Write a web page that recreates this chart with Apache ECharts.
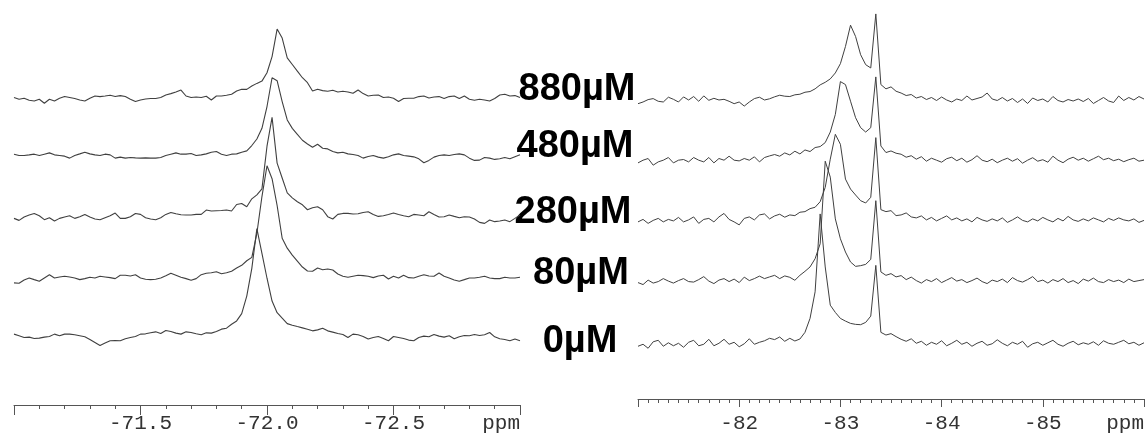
<!DOCTYPE html>
<html><head><meta charset="utf-8">
<script src="https://cdn.jsdelivr.net/npm/echarts@6/dist/echarts.min.js"></script>
<style>html,body{margin:0;padding:0;background:#fff}#c{width:1147px;height:434px}</style>
</head><body><div id="c"></div>
<script>
// ---- data ----
const concentrations = ['0µM', '80µM', '280µM', '480µM', '880µM'];

// left panel: chemical shift grid (ppm), -71.00 .. -73.00 step 0.02
const leftStart = -71.0, leftStep = 0.02, leftCount = 101;
// right panel: -81.00 .. -86.00 step 0.05
const rightStart = -81.0, rightStep = 0.05, rightCount = 101;

// vertical stacking offsets of each trace (same order as concentrations)
const leftOffsets  = [0.7, 60, 120.7, 182.7, 240];
const rightOffsets = [-6, 57, 118, 179, 238.5];

// left panel intensities
const left0 = [2.7,1,-0.7,-0.3,-1.7,-1.3,-0.3,0.3,2.7,1,
 2.7,2.7,2,1,0,-2.7,-5.7,-8.7,-6.3,-4,
 -3.7,-4,-2,-0.7,0.3,2.7,3,4,5,3.3,
 6.3,5.3,3.7,2.7,5,4.3,3,2,4,3.7,
 5.3,7.7,8.7,12.7,16,23.3,41,69,109,84,
 59,36,24.3,18.7,13.3,11.7,10.3,9,7.7,6,
 7,8.7,6,4.7,3.3,2.3,-0.7,2.7,2,0.3,
 -2.3,-0.7,0.3,-1.7,-4,0.3,-0.7,-1.7,-3.3,-4,
 -0.7,0.7,0,2.3,0.7,-0.3,1,-2,0,1.3,
 1,2.3,1.3,2,4.3,0,-2,-2.7,-4,-2.3,
 -4];
const left80 = [-5,-5.3,-2,0,-1.7,-3.3,0,3.3,0,1,
 1.7,1,0,-1.7,-0.7,0.7,0,1.7,1,0.3,
 -0.7,2.7,2.7,2,3.3,0,-1.3,-1.7,-1.3,0,
 2.3,4.7,2.7,0.7,-0.7,-2.3,-0.7,3.3,4.7,5.3,
 6.3,4.3,5.3,6.7,10,12.7,17.3,20.7,45,82,
 113,100,73,40,30,23,17,11,7,6.7,
 10,8.3,9,8,4,1.7,0.7,1.7,2.7,2.3,
 1.7,0.3,2,2.7,-1,1.7,0,2.7,0.3,0,
 1.7,3.3,2,1.7,5,1.7,0,-2,-3.3,-1.7,
 0,0,0.7,1.7,0,-0.7,-0.7,0.7,0,0,
 0.7];
const left280 = [-0.7,-2.7,0.7,2.7,4.3,2,-2,0,-3.3,-0.7,
 0.7,2,-0.7,1,3.3,0.7,-1.3,-2,0,2,
 4.7,-0.7,-0.7,1,4.3,3.3,0,-1.3,-2,0,
 3.3,5.3,4,3,2.7,2.7,3.3,3.3,7.7,6.7,
 7,7.3,7.7,6.7,13.3,14.3,11,19,23,29,
 72,101,55,40,25,20,16,13,8,10,
 11,8,1,-1.3,3.3,4.3,4.3,3.7,4,5.3,
 6,3.3,1.3,2,3.3,4.7,3.3,2,1,3.3,
 2.7,2,6,3.3,0.7,1,2.7,1.3,0,1,
 0.7,-1.3,-4.7,-5.7,-2.3,-4,-3.3,-2.3,-4,-0.7,
 2.7];
const left480 = [2,0.7,0.7,1.3,2,0.7,2,3.3,1.3,0.7,
 0,-2,0.7,2.3,4,2.3,1.3,0.7,2,1.3,
 -2,-1,-2,-1.3,-1.7,-2,-1.7,-2,-2,-1.3,
 0.7,2,3.3,2,2,2.7,0.7,1.3,2.3,4,
 4.7,2,0.7,2,2.3,4,5.3,10.7,17.3,28,
 50,79,76,55,36.5,28,22,16,12.3,9,
 12,8,7.3,4.7,3.3,4,2.3,1.7,0.7,-2,
 -0.3,0.7,-1,-2,-0.7,1.3,2.3,0.7,0,-0.7,
 -2.7,-6.7,-4.3,-1,0.7,1.3,0.7,1.7,2.3,1.3,
 -2,-4.3,-4,-1.3,-2,-3.3,-2.7,-1.3,-2.7,-0.7,
 1.3];
const left880 = [1.7,0,1,-1,-1.7,0,-4,0,-1.7,1,
 2.7,1.7,0.7,-0.7,-1.7,1,3.3,2.7,3.3,4,
 2.7,3.7,2.7,0,-2.3,-0.7,0.3,0.7,0.7,1.7,
 4.3,5.7,7.3,9.3,3.3,1.7,2.3,1.7,3,-0.7,
 3.3,3.3,4,5,8.3,10,10,13.3,16,18.3,
 26.7,43,70.7,61.7,41.7,35,28.3,21.7,16.7,8.3,
 10,8.7,8,9,7.3,8,7.3,6,9.3,5.7,
 3.3,4,4.3,1.7,2.3,1,-2.3,0.7,1,1,
 2.7,3.3,1.3,2.3,2.7,0.7,2.7,3.3,0.7,3.3,
 0,-1,0,-0.7,-1.7,0.7,4.3,5,3.3,3.7,
 1.7];

// right panel intensities
const right0 = [-2,0,-4,2.5,4,-2,1.5,-1.5,1,-3,
 2,4,-1.5,0,5,-1.5,1,5,0,2,
 -2.5,0.5,5.5,0,2,3.5,6,4.7,7.3,3,
 6,3.3,5.3,12,26,52.7,131,77.7,39.3,32,
 26,23.3,21,20,19.7,22,28.3,79.3,12,9.3,
 10.7,7.7,5,3,5.5,1,3,-1,2,0,
 3.5,-1.5,1,4,0,2,-2,1,3,-1,
 0.5,4.5,1,-1.5,2,0,3,-3,0.5,2,
 -1,1.5,4,0,-2,1,3,-0.5,1.5,0,
 2.5,-1,3.5,1,0,2,4,0.5,2,-1,
 1.5];
const right80 = [-1,-3,1.5,-1.5,0,3,0.5,-1.5,1,3,
 0,-0.5,2,5,0.5,-2,1.5,3,0,2.5,
 -1,4.5,1,3,5.5,3,4.7,6.3,3,5.7,
 4.3,1.3,6.3,10.3,14.7,23,38,121,105,63,
 43,29.7,19.7,15.3,16,17.3,22.3,81.3,9.7,6.3,
 8,4.7,6,2,4.5,1,-1.5,2,0,3,
 -1,1.5,4,0.5,2,-1,1,3.5,0,-2,
 1.5,0,2.5,-1,4,1,-0.5,2,5,0,
 1.5,-1.5,2,0,3,-1,1,-2,2.5,0.5,
 3.5,0,-1,2,0,1.5,-1,2.5,0,1,
 2];
const right280 = [-1,1.5,-2.5,0.5,2.5,-1,1.5,0,3.5,-1,
 1,4,-2.5,1.5,2.5,-1,4,7.5,1.5,-1,
 -4,2.5,4,1,6,7,2,5,6.7,3.7,
 6,5.3,8.7,9.3,12.3,13.7,19.3,33.7,62,87,
 77,42,32,26,20.3,18,23.7,83.7,11.3,9.3,
 10.3,5.3,6,8,4,3,5,1,3.5,0,
 2.5,5,1,3,0,2,-1,3.5,1,-0.5,
 2,0,3,-1.5,1,4,0.5,-1,2,0,
 3.5,1,-1,2.5,0,4.5,1,-0.5,2,0,
 3,1,-1,2.5,0.5,3,1,0,2,-1.5,
 0.5];
const right480 = [-2.7,0,1.7,-5,-1.7,0,2.7,-2.7,0,0.7,
 -1.7,2.7,0,-1.7,2.7,-2.7,1.7,0,4,0,
 -0.7,1.7,0,3.4,-1.7,2.7,4.3,5.7,4,7.3,
 5.3,9,6.3,10.3,8.7,12.7,13.7,17.7,28.3,46,
 79,76,59.3,42.7,32.7,28.3,32.7,83.7,14.3,7.7,
 9.3,7,6,3,4.5,1,3.5,-1,2,0,
 -2,1.5,3,-0.5,2,-2,0.5,4.5,0,-1.5,
 1,-2.5,0,2,-1,1.5,-3,0,2.5,-1,
 0.5,-2,4,0,-2.5,1,3,0,2,-1,
 1.5,4,0.5,2,-0.5,1,-1.5,0.5,2,-1,
 0];
const right880 = [-2.7,-1,1.4,2.4,-0.3,-1,3.8,1.7,-1,4.1,
 1,4.5,-0.3,5.1,0.7,2.7,1,1.7,-0.3,-2.7,
 -1,-5.1,-1,2.4,3.8,1,2.2,4.2,5.8,4.8,
 4.5,6.2,6.8,8.8,9.5,12.2,16.2,18.8,22.2,28.2,
 37.5,54.8,76.2,64.8,46.5,36.5,33.2,87.5,16.5,12.2,
 14.2,9.8,8,5.5,6.5,3,4.5,1.5,3.5,0.5,
 4,1,-1,2,0.5,5,1,2.5,4,8,
 2,0.5,3.5,0,2.5,-1.5,2,-2.5,3,0.5,
 2,-1,4.5,0.5,-1,1.5,0,2,-0.5,2.5,
 -2.5,0.5,3.5,0,-1.5,5,0.5,3.5,1,4.5,
 2];

const leftTraces  = [left0, left80, left280, left480, left880];
const rightTraces = [right0, right80, right280, right480, right880];

// axis ticks
const leftTickInterval = 0.5, rightTickInterval = 1;

// ---- build ----
function grid(start, step, n) { const a = []; for (let i = 0; i < n; i++) a.push(+(start - step * i).toFixed(3)); return a; }
const leftPpm = grid(leftStart, leftStep, leftCount);
const rightPpm = grid(rightStart, rightStep, rightCount);

const lineColor = '#404040';
const series = [];
leftTraces.forEach((tr, k) => series.push({
  type: 'line', xAxisIndex: 0, yAxisIndex: 0, showSymbol: false, symbol: 'none', silent: true,
  lineStyle: { width: 1.1, color: lineColor }, data: tr.map((v, i) => [leftPpm[i], v + leftOffsets[k]])
}));
rightTraces.forEach((tr, k) => series.push({
  type: 'line', xAxisIndex: 1, yAxisIndex: 1, showSymbol: false, symbol: 'none', silent: true,
  lineStyle: { width: 1, color: lineColor }, data: tr.map((v, i) => [rightPpm[i], v + rightOffsets[k]])
}));

function xAxisCfg(gi, min, max, interval, minorSplit, fmt, margin, tickLen, minorLen) {
  return {
    gridIndex: gi, type: 'value', min: min, max: max, inverse: true, interval: interval,
    axisLine: { onZero: false, lineStyle: { color: '#555', width: 1 } },
    axisTick: { show: true, length: tickLen, lineStyle: { color: '#555', width: 1 } },
    minorTick: { show: true, splitNumber: minorSplit, length: minorLen, lineStyle: { color: '#555', width: 1 } },
    splitLine: { show: false }, minorSplitLine: { show: false },
    axisLabel: { formatter: fmt, fontFamily: '"Liberation Mono", monospace', fontSize: 21, color: '#333',
      margin: margin, showMinLabel: true, showMaxLabel: true, alignMinLabel: 'right' }
  };
}

const labelPos = [[580, 342], [581, 274], [573, 213], [575, 147], [577, 90]];
const graphics = concentrations.map((t, k) => ({
  type: 'text', silent: true,
  style: { text: t, x: labelPos[k][0], y: labelPos[k][1], textAlign: 'center', textVerticalAlign: 'middle',
    align: 'center', verticalAlign: 'middle', font: 'bold 38px "Liberation Sans", Arial, sans-serif', fill: '#000' }
}));

const chart = echarts.init(document.getElementById('c'), null, { renderer: 'canvas' });
chart.setOption({
  animation: false,
  backgroundColor: '#fff',
  grid: [
    { left: 14, top: 0, width: 506, height: 408 },
    { left: 638, top: 0, width: 506, height: 401 }
  ],
  xAxis: [
    xAxisCfg(0, -73, -71, leftTickInterval, 5, v => Math.abs(v + 73) < 1e-6 ? 'ppm' : (Math.abs(v + 71) < 1e-6 ? '' : v.toFixed(1)), 8, 10, 4),
    xAxisCfg(1, -86, -81, rightTickInterval, 10, v => Math.abs(v + 86) < 1e-6 ? 'ppm' : (Math.abs(v + 81) < 1e-6 ? '' : String(v)), 14, 8, 4)
  ],
  yAxis: [
    { gridIndex: 0, type: 'value', min: -68, max: 340, show: false, splitLine: { show: false } },
    { gridIndex: 1, type: 'value', min: -61, max: 340, show: false, splitLine: { show: false } }
  ],
  series: series,
  graphic: graphics
});
</script>
</body></html>
